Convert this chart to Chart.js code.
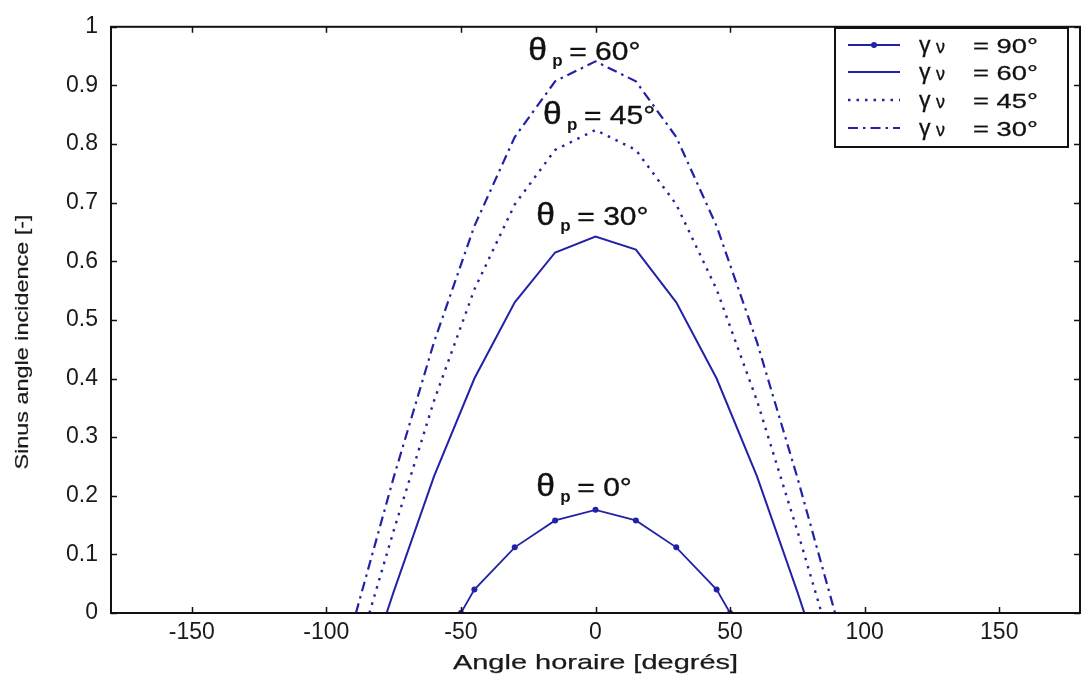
<!DOCTYPE html>
<html>
<head>
<meta charset="utf-8">
<script src="https://cdn.jsdelivr.net/npm/chart.js@4.4.1/dist/chart.umd.min.js"></script>
<style>
html,body{margin:0;padding:0;background:#fff;}
canvas{display:block;}
</style>
</head>
<body>
<canvas id="c" width="1085" height="676"></canvas>
<script>
// ---- data ----
const seriesLabels = ['γν = 90°', 'γν = 60°', 'γν = 45°', 'γν = 30°'];
const legendValues = ['= 90°', '= 60°', '= 45°', '= 30°'];
const curveLabels = ['θp = 0°', 'θp = 30°', 'θp = 45°', 'θp = 60°'];

const hourAngle90 = [-50, -45, -30, -15, 0, 15, 30, 45, 50];
const sinInc90    = [0, 0.04, 0.112, 0.158, 0.176, 0.158, 0.112, 0.04, 0];

const hourAngle60 = [-77.6, -75, -60, -45, -30, -15, 0, 15, 30, 45, 60, 75, 77.6];
const sinInc60    = [0, 0.036, 0.233, 0.40, 0.53, 0.615, 0.642, 0.62, 0.53, 0.40, 0.233, 0.036, 0];

const hourAngle45 = [-84, -75, -60, -45, -30, -15, 0, 15, 30, 45, 60, 75, 84];
const sinInc45    = [0, 0.14, 0.362, 0.552, 0.697, 0.79, 0.824, 0.79, 0.697, 0.552, 0.362, 0.14, 0];

const hourAngle30 = [-89, -75, -60, -45, -30, -15, 0, 15, 30, 45, 60, 75, 89];
const sinInc30    = [0, 0.231, 0.462, 0.66, 0.812, 0.907, 0.941, 0.907, 0.812, 0.66, 0.462, 0.231, 0];

const xTickValues = [-150, -100, -50, 0, 50, 100, 150];
const xTickLabels = ['-150', '-100', '-50', '0', '50', '100', '150'];
const yTickValues = [0, 0.1, 0.2, 0.3, 0.4, 0.5, 0.6, 0.7, 0.8, 0.9, 1];
const yTickLabels = ['0', '0.1', '0.2', '0.3', '0.4', '0.5', '0.6', '0.7', '0.8', '0.9', '1'];

// curve annotation anchors in data coordinates (hour angle, sin value)
const curveLabelX = [-22, -22, -19.5, -25];
const curveLabelY = [0.200, 0.662, 0.835, 0.943];

// ---- build ----
const pts = (xs, ys) => xs.map((x, i) => ({x: x, y: ys[i]}));
const BLUE = '#2222a8';
const FONT = '"Liberation Sans", Arial, sans-serif';

const datasets = [
  {label: seriesLabels[0], data: pts(hourAngle90, sinInc90), borderColor: BLUE, backgroundColor: BLUE,
   borderWidth: 1.8, pointRadius: 3, pointBackgroundColor: BLUE, pointBorderWidth: 0, showLine: true, _dash: []},
  {label: seriesLabels[1], data: pts(hourAngle60, sinInc60), borderColor: BLUE, backgroundColor: BLUE,
   borderWidth: 2, pointRadius: 0, showLine: true, _dash: []},
  {label: seriesLabels[2], data: pts(hourAngle45, sinInc45), borderColor: BLUE, backgroundColor: BLUE,
   borderWidth: 2.4, pointRadius: 0, showLine: true, borderDash: [2.5, 6], _dash: [2.5, 6]},
  {label: seriesLabels[3], data: pts(hourAngle30, sinInc30), borderColor: BLUE, backgroundColor: BLUE,
   borderWidth: 2.2, pointRadius: 0, showLine: true, borderDash: [10, 5, 2.5, 5], _dash: [10, 5, 2.5, 5]}
];

function heavyText(ctx, txt, x, y, font, sx, w) {
  ctx.save();
  ctx.font = font;
  ctx.translate(x, y);
  ctx.scale(sx, 1);
  ctx.lineWidth = w;
  ctx.strokeStyle = ctx.fillStyle;
  ctx.fillText(txt, 0, 0);
  if (w > 0) ctx.strokeText(txt, 0, 0);
  ctx.restore();
}

const framePlugin = {
  id: 'frame',
  afterDatasetsDraw(chart) {
    const ctx = chart.ctx;
    const a = chart.chartArea;
    const xs = chart.scales.x, ys = chart.scales.y;
    ctx.save();
    // box
    ctx.strokeStyle = '#111';
    ctx.lineWidth = 2;
    ctx.strokeRect(a.left, a.top, a.right - a.left, a.bottom - a.top);
    // inward ticks
    ctx.lineWidth = 1.5;
    const tl = 6;
    xTickValues.forEach(v => {
      const p = Math.round(xs.getPixelForValue(v)) + 0.5;
      ctx.beginPath();
      ctx.moveTo(p, a.bottom); ctx.lineTo(p, a.bottom - tl);
      ctx.moveTo(p, a.top); ctx.lineTo(p, a.top + tl);
      ctx.stroke();
    });
    yTickValues.forEach(v => {
      const p = Math.round(ys.getPixelForValue(v)) + 0.5;
      ctx.beginPath();
      ctx.moveTo(a.left, p); ctx.lineTo(a.left + tl, p);
      ctx.moveTo(a.right, p); ctx.lineTo(a.right - tl, p);
      ctx.stroke();
    });

    // axis titles
    ctx.fillStyle = '#1a1a1a';
    ctx.textBaseline = 'alphabetic';
    ctx.textAlign = 'center';
    heavyText(ctx, 'Angle horaire [degrés]', (a.left + a.right) / 2, 669, '21px ' + FONT, 1.38, 0.25);

    ctx.save();
    ctx.translate(28, 342);
    ctx.rotate(-Math.PI / 2);
    heavyText(ctx, 'Sinus angle incidence [-]', 0, 0, '18px ' + FONT, 1.3, 0.2);
    ctx.restore();

    // curve annotations
    ctx.textAlign = 'left';
    ctx.fillStyle = '#111';
    curveLabels.forEach((lab, i) => {
      const x0 = xs.getPixelForValue(curveLabelX[i]);
      const b = ys.getPixelForValue(curveLabelY[i]);
      const sub = lab.charAt(1);
      const rest = lab.slice(2).trim();
      heavyText(ctx, lab.charAt(0), x0, b, '32px ' + FONT, 1.05, 0.4);
      heavyText(ctx, sub, x0 + 24, b + 6, 'bold 17px ' + FONT, 1, 0);
      heavyText(ctx, rest, x0 + 41, b, '25px ' + FONT, 1.2, 0.35);
    });

    // legend
    const L = {l: 835, t: 28, r: 1068, b: 147};
    ctx.fillStyle = '#fff';
    ctx.fillRect(L.l, L.t, L.r - L.l, L.b - L.t);
    ctx.strokeStyle = '#111';
    ctx.lineWidth = 2;
    ctx.strokeRect(L.l, L.t, L.r - L.l, L.b - L.t);
    const rows = [45, 72, 100, 128];
    chart.data.datasets.forEach((ds, i) => {
      const y = rows[i];
      ctx.save();
      ctx.strokeStyle = ds.borderColor;
      ctx.lineWidth = ds.borderWidth;
      ctx.setLineDash(ds._dash);
      ctx.beginPath();
      ctx.moveTo(848, y); ctx.lineTo(900, y);
      ctx.stroke();
      ctx.restore();
      if (ds.pointRadius > 0) {
        ctx.fillStyle = ds.borderColor;
        ctx.beginPath();
        ctx.arc(874, y, 3, 0, Math.PI * 2);
        ctx.fill();
      }
      ctx.fillStyle = '#111';
      heavyText(ctx, ds.label.charAt(0), 919, y + 7, '22px ' + FONT, 1.05, 0.3);
      heavyText(ctx, ds.label.charAt(1), 936, y + 8, '18px ' + FONT, 1, 0.3);
      heavyText(ctx, legendValues[i], 973, y + 8, '21px ' + FONT, 1.3, 0.3);
    });
    ctx.restore();
  }
};

new Chart(document.getElementById('c'), {
  type: 'scatter',
  data: {datasets: datasets},
  options: {
    responsive: false,
    animation: false,
    layout: {padding: {top: 18, right: 5, left: 0, bottom: 0}},
    plugins: {legend: {display: false}, tooltip: {enabled: false}},
    elements: {line: {tension: 0}},
    scales: {
      x: {
        type: 'linear', min: -180, max: 180,
        grid: {display: false, drawTicks: false},
        border: {display: false},
        afterBuildTicks: s => { s.ticks = xTickValues.map(v => ({value: v})); },
        afterFit: s => { s.height = 63; },
        ticks: {
          padding: 6, color: '#1a1a1a', maxRotation: 0, autoSkip: false,
          font: {family: FONT, size: 23},
          callback: (v, i) => xTickLabels[i]
        }
      },
      y: {
        type: 'linear', min: 0, max: 1,
        grid: {display: false, drawTicks: false},
        border: {display: false},
        afterBuildTicks: s => { s.ticks = yTickValues.map(v => ({value: v})); },
        afterFit: s => { s.width = 111; },
        ticks: {
          padding: 13, color: '#1a1a1a', autoSkip: false,
          font: {family: FONT, size: 23},
          callback: (v, i) => yTickLabels[i]
        }
      }
    }
  },
  plugins: [framePlugin]
});
</script>
</body>
</html>
